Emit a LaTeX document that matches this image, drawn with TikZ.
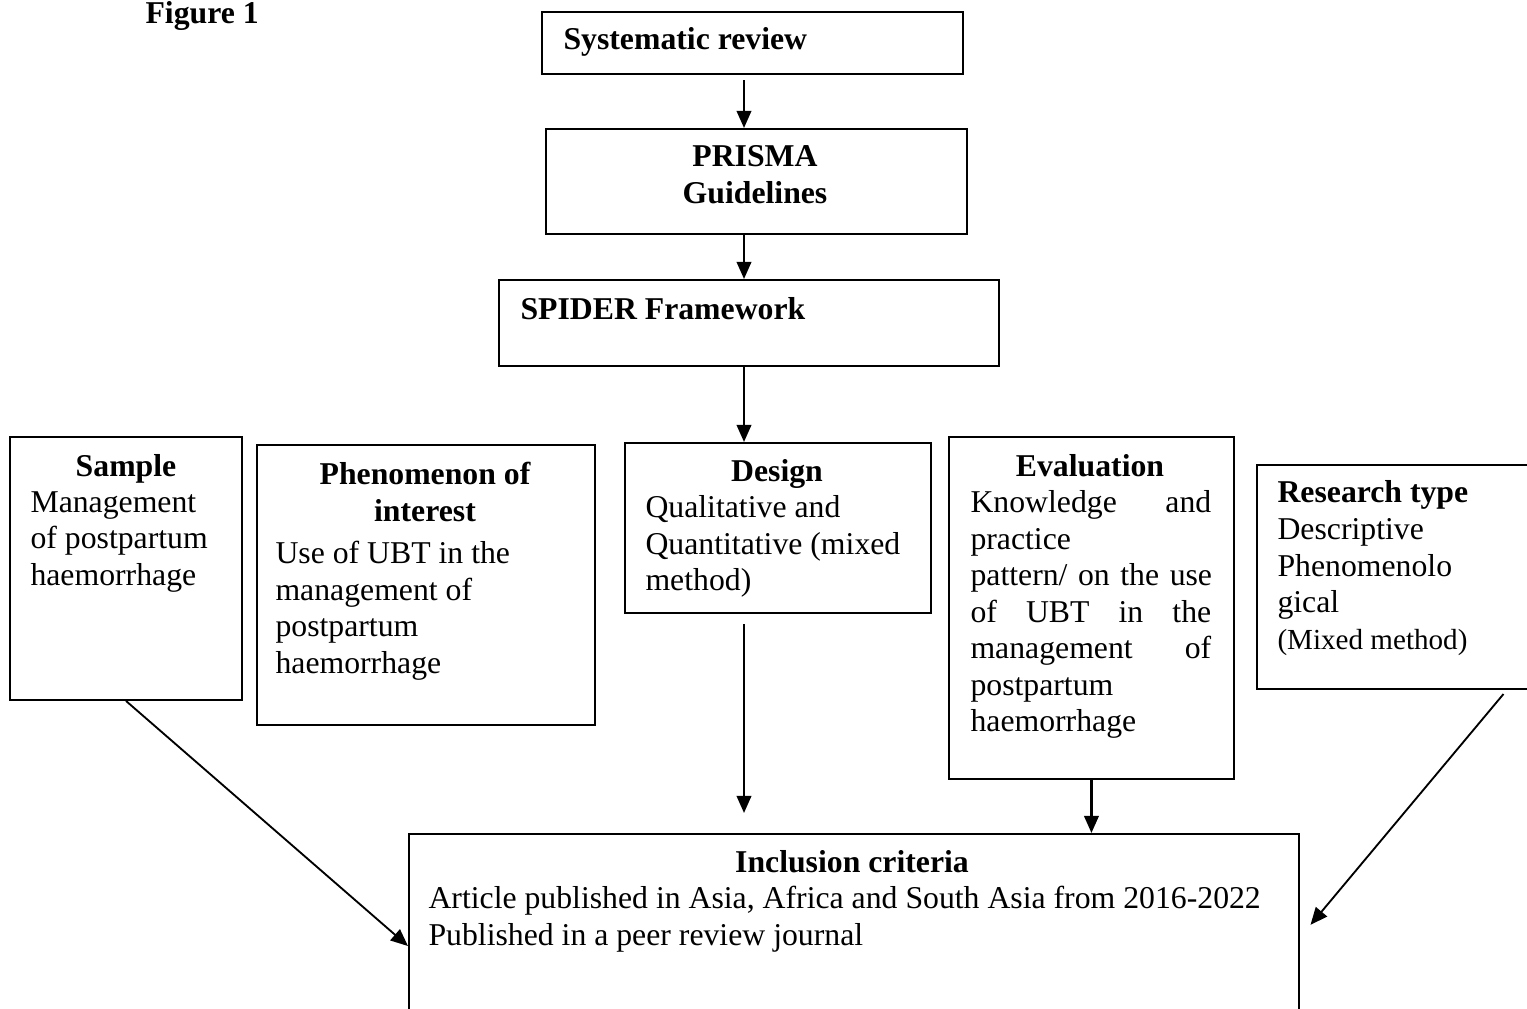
\documentclass[tikz,border=0pt]{standalone}
\usepackage{fontspec}
\setmainfont{Liberation Serif}
\usetikzlibrary{arrows.meta,positioning}

\begin{document}
\begin{tikzpicture}[
    x=0.378pt,
    y=-0.378pt,
    % Styles
    box/.style={
        rectangle,
        draw=black,
        line width=0.75pt,
        anchor=north west,
        inner sep=0pt
    },
    head/.style={
        font=\fontsize{12}{13.8}\selectfont\bfseries,
        inner sep=0pt,
        anchor=base,
        align=center
    },
    body/.style={
        font=\fontsize{12}{13.8}\selectfont,
        inner sep=0pt,
        anchor=north west,
        align=left
    },
    % Line Styles
    flow/.style={draw, -{Triangle[length=6.5pt,width=5.5pt]}, line width=0.9pt},
    slant/.style={draw, -{Triangle[length=6.5pt,width=5.5pt]}, line width=0.7pt}
]
\useasboundingbox (0,0) rectangle (1527,1009);
\clip (0,0) rectangle (1527,1009);

% --- Title ---
\node[head, anchor=base west] (Title) at (145,24) {Figure 1};

% --- Top column ---
\node[box, minimum width=159.1pt, minimum height=23.4pt] (SysRev) at (541,11) {};
\node[head, anchor=base west] (SysRevText) at (563,50) {Systematic review};

\node[box, minimum width=159.1pt, minimum height=39.7pt] (Prisma) at (545,128) {};
\node[head, anchor=north] (PrismaText) at (755,145) {PRISMA\\Guidelines};

\node[box, minimum width=189pt, minimum height=32.5pt] (Spider) at (498,279) {};
\node[head, anchor=base west] (SpiderText) at (520,320) {SPIDER Framework};

% --- SPIDER row ---
\node[box, minimum width=87.7pt, minimum height=99.4pt] (Sample) at (9,436) {};
\node[head] (SampleHead) at (126,477) {Sample};
\node[body] (SampleBody) at (30,491) {Management\\of postpartum\\haemorrhage};

\node[box, minimum width=127.8pt, minimum height=105.8pt] (Phenom) at (256,444) {};
\node[head, anchor=north] (PhenomHead) at (425,462) {Phenomenon of\\interest};
\node[body] (PhenomBody) at (275,541) {Use of UBT in the\\management of\\postpartum\\haemorrhage};

\node[box, minimum width=115.7pt, minimum height=64.3pt] (Design) at (624,442) {};
\node[head] (DesignHead) at (777,482) {Design};
\node[body] (DesignBody) at (645,495) {Qualitative and\\Quantitative (mixed\\method)};

\node[box, minimum width=107.7pt, minimum height=129.3pt] (Eval) at (948,436) {};
\node[head] (EvalHead) at (1090,477) {Evaluation};
\node[body, text width=91pt] (EvalBody) at (970,490) {Knowledge \hfill and\\practice\\\makebox[\linewidth][s]{pattern/ on the use}\\of \hfill UBT \hfill in \hfill the\\management \hfill of\\postpartum\\haemorrhage};

\node[box, minimum width=102.8pt, minimum height=84.7pt] (Research) at (1256,464) {};
\node[head, anchor=base west] (ResearchHead) at (1277,503) {Research type};
\node[body] (ResearchBody) at (1277,518) {Descriptive\\Phenomenolo\\gical\\{\fontsize{11}{13.8}\selectfont(Mixed method)}};

% --- Bottom ---
\node[box, minimum width=336.4pt, minimum height=84.7pt] (Incl) at (408,833) {};
\node[head] (InclHead) at (852,872) {Inclusion criteria};
\node[body] (InclBody) at (428,886) {Article published in Asia, Africa and South Asia from 2016-2022\\Published in a peer review journal};

% --- Connectors ---
\coordinate (mid) at (744,0);
\coordinate (DesignEnd) at (744,813);

\draw[flow, shorten <=2pt] (SysRev.south -| mid) -- (Prisma.north -| mid);
\draw[flow] (Prisma.south -| mid) -- (Spider.north -| mid);
\draw[flow] (Spider.south -| mid) -- (Design.north -| mid);
\draw[flow, shorten <=3.8pt] (Design.south -| mid) -- (DesignEnd);
\draw[flow] (Eval.south) -- (Eval.south |- Incl.north);

\draw[slant] (Sample.south) -- (Incl.west);
\draw[slant] ([xshift=-10pt,yshift=-1.5pt]Research.south east) -- ([xshift=4pt,yshift=8pt]Incl.east);

\end{tikzpicture}
\end{document}
